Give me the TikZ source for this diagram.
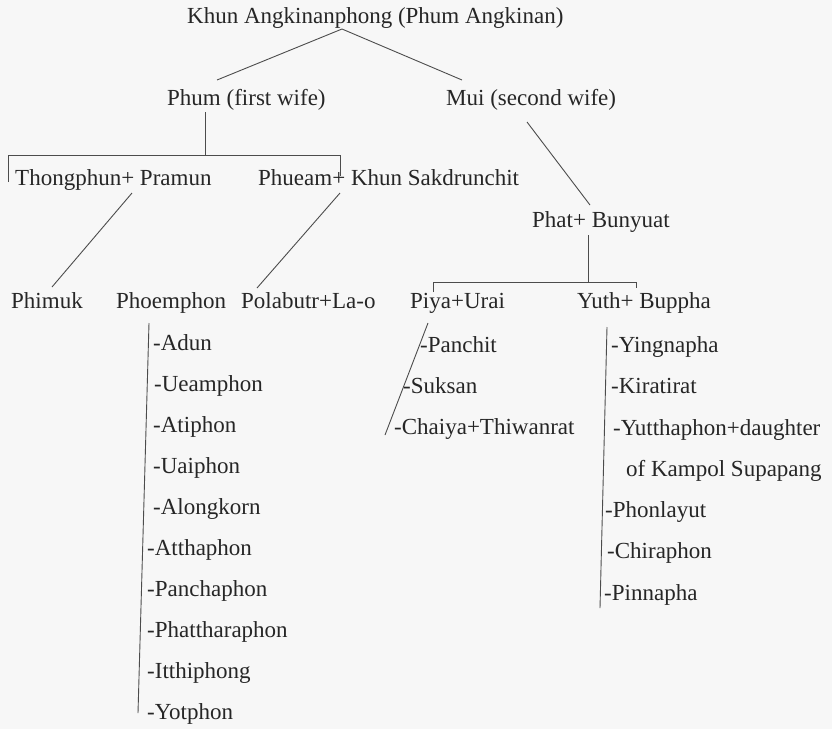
\documentclass[tikz,border=0pt]{standalone}
\usepackage{fontspec}
\setmainfont{Liberation Serif}
\begin{document}
\begin{tikzpicture}[x=1pt,y=-1pt,
  txt/.style={anchor=base west,inner sep=0pt,font=\fontsize{23}{26}\selectfont,text=black!85},
  ln/.style={draw=black!70,line width=0.9pt}]
\fill[black!3] (0,0) rectangle (832,729);
\useasboundingbox (0,0) rectangle (832,729);
% generations
\node[txt] (root) at (187,23) {Khun Angkinanphong (Phum Angkinan)};
\node[txt] (phum) at (167,105) {Phum (first wife)};
\node[txt] (mui) at (446,105) {Mui (second wife)};
\node[txt] (thong) at (15,185) {Thongphun+ Pramun};
\node[txt] (phueam) at (258,185) {Phueam+ Khun Sakdrunchit};
\node[txt] (phat) at (532,227) {Phat+ Bunyuat};
\node[txt] (phimuk) at (11,308) {Phimuk};
\node[txt] (phoem) at (116,308) {Phoemphon};
\node[txt] (pola) at (241,308) {Polabutr+La-o};
\node[txt] (piya) at (410,308) {Piya+Urai};
\node[txt] (yuth) at (577,308) {Yuth+ Buppha};
% Phoemphon children
\node[txt] (c1) at (153,350) {-Adun};
\node[txt] (c2) at (154,391) {-Ueamphon};
\node[txt] (c3) at (153,432) {-Atiphon};
\node[txt] (c4) at (153,473) {-Uaiphon};
\node[txt] (c5) at (153,514) {-Alongkorn};
\node[txt] (c6) at (147,555) {-Atthaphon};
\node[txt] (c7) at (147,596) {-Panchaphon};
\node[txt] (c8) at (147,637) {-Phattharaphon};
\node[txt] (c9) at (147,678) {-Itthiphong};
\node[txt] (c10) at (147,719) {-Yotphon};
% Piya children
\node[txt] (p1) at (420,352) {-Panchit};
\node[txt] (p2) at (403,393) {-Suksan};
\node[txt] (p3) at (394,434) {-Chaiya+Thiwanrat};
% Yuth children
\node[txt] (y1) at (611,352) {-Yingnapha};
\node[txt] (y2) at (611,393) {-Kiratirat};
\node[txt] (y3) at (613,435) {-Yutthaphon+daughter};
\node[txt] (y3b) at (626,476) {of Kampol Supapang};
\node[txt] (y4) at (605,517) {-Phonlayut};
\node[txt] (y5) at (607,558) {-Chiraphon};
\node[txt] (y6) at (604,600) {-Pinnapha};
% connector end points
\coordinate (rootJ) at (342,29);
\coordinate (phumT) at (217,80);
\coordinate (muiT) at (462,80);
\coordinate (muiB) at (527,122);
\coordinate (phatT) at (590,205);
\coordinate (phumB) at (205,112);
\coordinate (brA) at (205,155);
\coordinate (brL) at (8,155);
\coordinate (brLb) at (8,182);
\coordinate (brR) at (340,155);
\coordinate (brRb) at (340,176);
\coordinate (thongB) at (132,193);
\coordinate (phimukT) at (52,287);
\coordinate (phueamB) at (340,193);
\coordinate (polaT) at (257,288);
\coordinate (phatB) at (588,235);
\coordinate (bbA) at (588,282);
\coordinate (bbL) at (433,282);
\coordinate (bbLb) at (433,292);
\coordinate (bbR) at (636,282);
\coordinate (bbRb) at (636,288);
\coordinate (piyaB) at (428,323);
\coordinate (piyaE) at (385,435);
\coordinate (phoemB) at (149,323);
\coordinate (phoemE) at (138,713);
\coordinate (yuthB) at (607,327);
\coordinate (yuthE) at (600,608);
% connectors
\draw[ln] (phumT) -- (rootJ) -- (muiT);
\draw[ln] (muiB) -- (phatT);
\draw[ln] (phumB) -- (brA);
\draw[ln] (brLb) -- (brL) -- (brR) -- (brRb);
\draw[ln] (thongB) -- (phimukT);
\draw[ln] (phueamB) -- (polaT);
\draw[ln] (phatB) -- (bbA);
\draw[ln] (bbLb) -- (bbL) -- (bbR) -- (bbRb);
\draw[ln] (piyaB) -- (piyaE);
\draw[ln] (phoemB) -- (phoemE);
\draw[ln] (yuthB) -- (yuthE);
\end{tikzpicture}
\end{document}
